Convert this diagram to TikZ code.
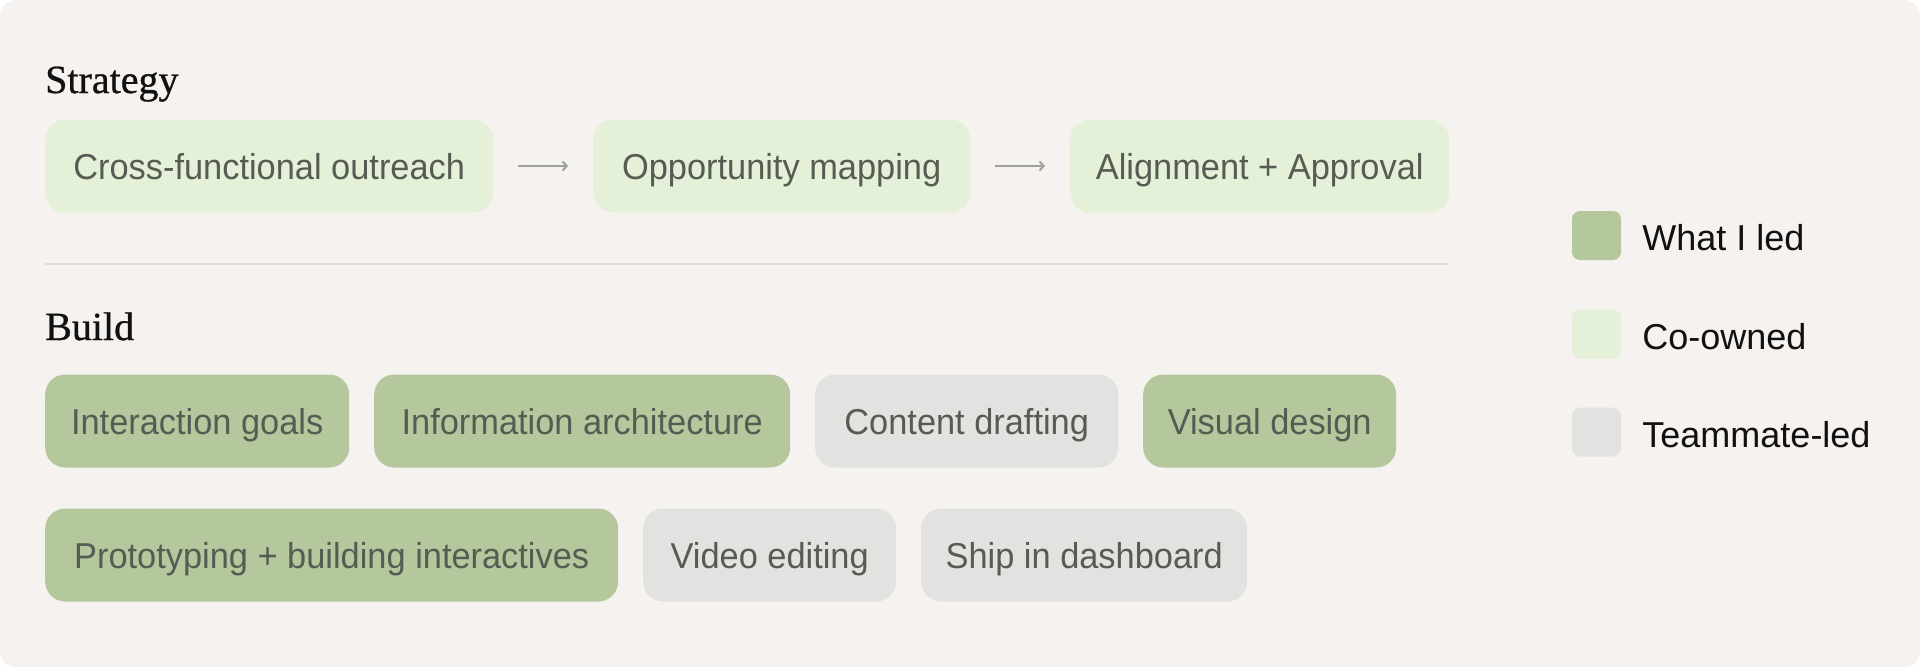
\documentclass[tikz,border=0pt]{standalone}
\usepackage{fontspec}
\setmainfont{Liberation Sans}
\newfontfamily\chipfont{Liberation Sans}[FakeStretch=0.955]
\newfontfamily\headfont{Liberation Serif}[FakeBold=0.7]
\usetikzlibrary{arrows.meta}

\definecolor{paper}{HTML}{F5F2EF}
\definecolor{ledgreen}{HTML}{B4C79D}
\definecolor{cogreen}{HTML}{E4F1D8}
\definecolor{mategray}{HTML}{E2E2E0}
\definecolor{chiptext}{HTML}{575C53}
\definecolor{ink}{HTML}{111111}
\definecolor{arrowgray}{HTML}{9CA392}
\definecolor{rulegray}{HTML}{E0DEDA}

\tikzset{
  chip/.style={rounded corners=20pt, minimum height=93pt, inner sep=0pt, anchor=west,
    text=chiptext, font=\chipfont\fontsize{36}{40}\selectfont, text height=26pt, text depth=0pt},
  ledchip/.style={chip, fill=ledgreen},
  cochip/.style={chip, fill=cogreen},
  matechip/.style={chip, fill=mategray},
  heading/.style={anchor=base west, inner sep=0pt, text=ink, font=\headfont\fontsize{40}{44}\selectfont},
  swatch/.style={rounded corners=8pt, minimum size=49pt, inner sep=0pt},
  keytext/.style={anchor=west, inner sep=0pt, text=ink, font=\fontsize{36}{40}\selectfont,
    text height=26pt, text depth=0pt},
  flow/.style={draw=arrowgray, line width=2pt, -{Straight Barb[length=4pt,width=9pt]},
    shorten <=25pt, shorten >=25pt}
}

\begin{document}
\begin{tikzpicture}[x=1pt,y=-1pt]
\useasboundingbox (0,0) rectangle (1920,667);
%CANVAS
\fill[white] (0,0) rectangle (1920,667);
\fill[paper,rounded corners=16pt] (0,0) rectangle (1920,667);
%STRATEGY
\node[heading] (strategy) at (45,93) {Strategy};
\node[cochip, minimum width=448pt] (outreach) at (45,166) {Cross-functional outreach};
\node[cochip, minimum width=377pt] (mapping) at (593,166) {Opportunity mapping};
\node[cochip, minimum width=379pt] (approval) at (1070,166) {Alignment + Approval};
\draw[flow] (outreach.east) -- (mapping.west);
\draw[flow] (mapping.east) -- (approval.west);
%divider
\draw[rulegray, line width=2pt] (45,264) -- (1449,264);
%BUILD
\node[heading] (build) at (45,340) {Build};
\node[ledchip, minimum width=304pt] (goals) at (45,421) {Interaction goals};
\node[ledchip, minimum width=416pt] (infoarch) at (374,421) {Information architecture};
\node[matechip, minimum width=303pt] (drafting) at (815,421) {Content drafting};
\node[ledchip, minimum width=253pt] (visual) at (1143,421) {Visual design};
\node[ledchip, minimum width=573pt] (proto) at (45,555) {Prototyping + building interactives};
\node[matechip, minimum width=253pt] (video) at (643,555) {Video editing};
\node[matechip, minimum width=326pt] (ship) at (921,555) {Ship in dashboard};
%LEGEND
\node[swatch, fill=ledgreen] (ledkey) at (1596.5,235.5) {};
\node[swatch, fill=cogreen] (cokey) at (1596.5,334) {};
\node[swatch, fill=mategray] (matekey) at (1596.5,432) {};
\node[keytext] (ledlabel) at ([xshift=21pt,yshift=-1.5pt]ledkey.east) {What I led};
\node[keytext] (colabel) at ([xshift=21pt,yshift=-2.5pt]cokey.east) {Co-owned};
\node[keytext] (matelabel) at ([xshift=21pt,yshift=-2.5pt]matekey.east) {Teammate-led};
\end{tikzpicture}
\end{document}
